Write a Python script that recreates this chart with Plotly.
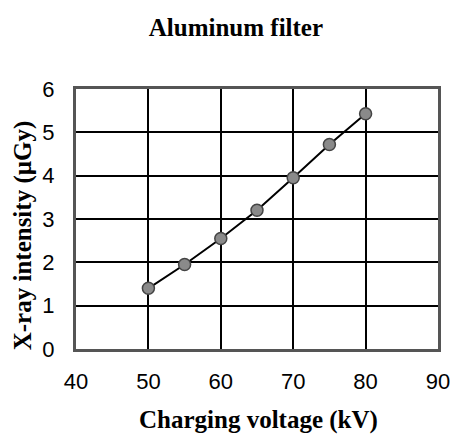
import plotly.graph_objects as go

voltage_kv = [50, 55, 60, 65, 70, 75, 80]
intensity_ugy = [1.4, 1.95, 2.55, 3.2, 3.95, 4.72, 5.43]
x_ticks = [40, 50, 60, 70, 80, 90]
y_ticks = [0, 1, 2, 3, 4, 5, 6]

fig = go.Figure()
fig.add_trace(go.Scatter(
    x=voltage_kv, y=intensity_ugy, mode="lines+markers",
    line=dict(color="black", width=2),
    marker=dict(size=12, color="#8a8a8a", line=dict(color="#444444", width=1.5)),
    showlegend=False,
))

tick_font = dict(family="Liberation Sans Narrow, Arial Narrow, Liberation Sans, Arial", size=22, color="black")
serif_bold = dict(family="Liberation Serif, Times New Roman, serif", size=25, color="black")

fig.update_layout(
    width=454, height=427,
    margin=dict(l=68, r=16, t=81, b=86),
    paper_bgcolor="white", plot_bgcolor="white",
    title=dict(text="<b>Aluminum filter</b>", x=0.502, xanchor="center", y=0.9555, yanchor="middle",
               font=serif_bold),
    xaxis=dict(range=[40, 90], tickvals=x_ticks, ticks="", tickfont=tick_font, ticklabelstandoff=11,
               showgrid=True, gridcolor="black", gridwidth=1.8,
               showline=True, linecolor="#555555", linewidth=3, mirror=True, zeroline=False),
    yaxis=dict(range=[0, 6], tickvals=y_ticks, ticks="", tickfont=tick_font, ticklabelstandoff=14,
               showgrid=True, gridcolor="black", gridwidth=1.8,
               showline=True, linecolor="#555555", linewidth=3, mirror=True, zeroline=False),
    annotations=[
        dict(text="<b>Charging voltage (kV)</b>", xref="paper", yref="paper", x=0.503, y=-0.273,
             xanchor="center", yanchor="middle", showarrow=False, font=serif_bold),
        dict(text="<b>X-ray intensity (µGy)</b>", xref="paper", yref="paper", x=-0.146, y=0.438,
             xanchor="center", yanchor="middle", showarrow=False, textangle=-90, font=serif_bold),
    ],
)

fig.write_html("out.html")
